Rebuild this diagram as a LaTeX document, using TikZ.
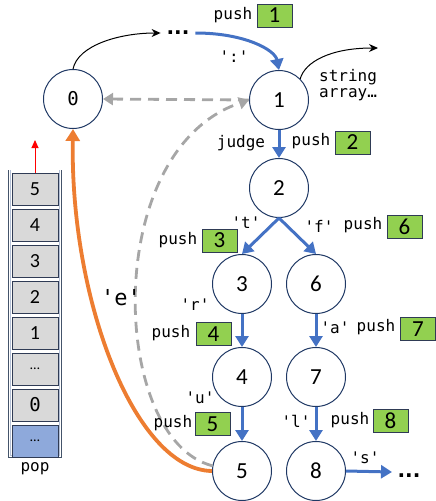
\documentclass[tikz,border=0pt]{standalone}
\usepackage{fontspec}
\setmainfont{Carlito}
\newfontfamily\mono{DejaVu Sans Mono}
\newfontfamily\dotsfont{DejaVu Sans}
\usetikzlibrary{arrows.meta}
\definecolor{navy}{HTML}{1F3864}
\definecolor{bluearr}{HTML}{4472C4}
\definecolor{orangearr}{HTML}{ED7D31}
\definecolor{grayd}{HTML}{A6A6A6}
\definecolor{greenbox}{HTML}{92D050}
\definecolor{cellgray}{HTML}{D9D9D9}
\definecolor{cellblue}{HTML}{8EA9DB}
\definecolor{boxborder}{HTML}{2F3B55}
\definecolor{frameout}{HTML}{44546A}
\definecolor{framein}{HTML}{B4C0D6}
\begin{document}
\begin{tikzpicture}[x=1pt,y=-1pt,
 state/.style={circle,draw=navy,line width=1pt,minimum size=59pt,inner sep=0pt,font=\fontsize{23}{23}\selectfont},
 barrow/.style={draw=bluearr,line width=3pt,-{Triangle[length=11pt,width=13pt]}},
 oarrow/.style={draw=orangearr,line width=3.8pt,-{Triangle[length=12pt,width=14pt]}},
 graydash/.style={draw=grayd,line width=2.8pt,dash pattern=on 11pt off 7pt,-{Triangle[length=10pt,width=12pt]}},
 pushbox/.style={draw=boxborder,fill=greenbox,line width=0.9pt,minimum width=35pt,minimum height=23pt,inner sep=0pt,font=\fontsize{23}{23}\selectfont},
 lbl/.style={font=\mono\fontsize{16}{16}\selectfont,inner sep=0pt},
 cell/.style={draw=boxborder,fill=cellgray,line width=1pt,minimum width=46pt,minimum height=32pt,inner sep=0pt,font=\fontsize{20}{20}\selectfont},
 dotslbl/.style={font=\dotsfont\bfseries\fontsize{20}{20}\selectfont,inner sep=0pt},
]
\useasboundingbox (0,0) rectangle (436,501);

% stack
\draw[frameout,line width=1.3pt] (8.5,170) -- (8.5,457.5) -- (61.5,457.5) -- (61.5,170);
\draw[framein,line width=1pt] (10.5,170) -- (10.5,455.5) -- (59.5,455.5) -- (59.5,170);
\node[cell] (c5) at (35,189) {5};
\node[cell] (c4) at (35,225) {4};
\node[cell] (c3) at (35,261) {3};
\node[cell] (c2) at (35,297) {2};
\node[cell] (c1) at (35,333) {1};
\node[cell,font=\fontsize{14}{14}\selectfont] (cd) at (35,369) {…};
\node[cell,font=\mono\fontsize{19}{19}\selectfont] (c0) at (35,405) {0};
\node[cell,fill=cellblue,font=\fontsize{14}{14}\selectfont] (cb) at (35,441) {…};
\coordinate (redtip) at (35,140);
\draw[red,line width=1pt,-{Triangle[length=8pt,width=7pt]}] (c5.north) -- (redtip);
\node[lbl] (pop) at (35,469) {pop};

% states
\node[state,font=\mono\fontsize{19}{19}\selectfont] (n0) at (73,99) {0};
\node[state] (n1) at (279,100) {1};
\node[state] (n2) at (279,188) {2};
\node[state] (n3) at (242,284) {3};
\node[state] (n6) at (316,284) {6};
\node[state] (n4) at (242,377) {4};
\node[state] (n7) at (316,377) {7};
\node[state] (n5) at (242,471) {5};
\node[state] (n8) at (316,471) {8};

% top
\node[dotslbl,outer sep=6pt] (dots1) at (178,33) {...};
\draw[black,line width=1pt,-{Stealth[length=9pt,width=8pt]}] (n0.north) .. controls (78,45) and (120,33) .. (dots1.west);
\draw[barrow] (dots1.east) .. controls (245,33) and (275,50) .. (n1.north);
\node[lbl] (push1) at (233,15) {push};
\node[pushbox] (b1) at (274.5,15.5) {1};
\node[lbl] (colon) at (234,57) {':'};

\coordinate (s1) at (378,48);
\draw[black,line width=1pt,-{Stealth[length=9pt,width=8pt]}] (n1.north east) .. controls (305,62) and (330,48) .. (s1);
\node[lbl,align=left,anchor=west] (strarr) at (319,85) {string\\array…};

% dashed back links
\draw[graydash] (n1.west) -- (n0.east);
\draw[graydash] (n5.170) .. controls (110,440) and (100,150) .. (n1.west);

% orange
\draw[oarrow] (n5.west) .. controls (135,470) and (70,300) .. (n0.south);
\node[font=\mono\fontsize{22}{22}\selectfont,inner sep=0pt] (elbl) at (121,298) {'e'};

% tree
\draw[barrow] (n1.south) -- (n2.north);
\node[lbl] (judge) at (241,143) {judge};
\node[lbl] (push2) at (311,141) {push};
\node[pushbox] (b2) at (352.5,142.5) {2};

\draw[barrow] (n2.south) -- (n3.north);
\draw[barrow] (n2.south) -- (n6.north);
\node[lbl] (tl) at (246,223) {'t'};
\node[lbl] (push3) at (178,240) {push};
\node[pushbox] (b3) at (219.5,240.5) {3};
\node[lbl] (fl) at (319,226) {'f'};
\node[lbl] (push6) at (363,225) {push};
\node[pushbox] (b6) at (404.5,227) {6};

\draw[barrow] (n3.south) -- (n4.north);
\node[lbl] (rl) at (195,305) {'r'};
\node[lbl] (push4) at (171,333) {push};
\node[pushbox] (b4) at (213.5,334) {4};

\draw[barrow] (n6.south) -- (n7.north);
\node[lbl] (al) at (335,328) {'a'};
\node[lbl] (push7) at (376,327) {push};
\node[pushbox] (b7) at (418,329) {7};

\draw[barrow] (n4.south) -- (n5.north);
\node[lbl] (ul) at (200,398) {'u'};
\node[lbl] (push5) at (173,423) {push};
\node[pushbox] (b5) at (212.5,424) {5};

\draw[barrow] (n7.south) -- (n8.north);
\node[lbl] (ll) at (296,421) {'l'};
\node[lbl] (push8) at (350,420) {push};
\node[pushbox] (b8) at (390.5,420.5) {8};

\coordinate (send) at (392,472);
\draw[barrow] (n8.east) -- (send);
\node[lbl] (sl) at (365,458) {'s'};
\node[dotslbl] (dots2) at (409,476) {...};
\end{tikzpicture}
\end{document}
